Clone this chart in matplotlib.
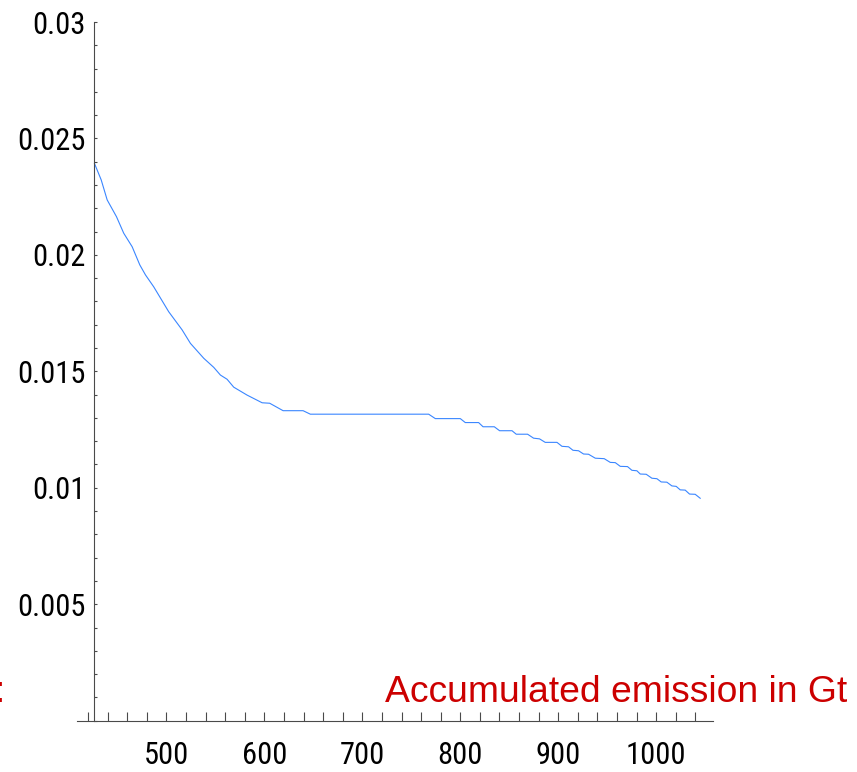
import matplotlib
matplotlib.use("Agg")
import matplotlib.pyplot as plt
from matplotlib import font_manager
from matplotlib.ticker import FixedLocator, MultipleLocator, NullFormatter

# Accumulated emission (Gt) and the corresponding response value
emission = [426.5, 433.4, 439.5, 449.0, 456.4, 465.0, 472.8, 478.6, 487.0, 502.3,
            516.0, 524.5, 538.1, 548.3, 555.1, 561.9, 568.7, 582.3, 597.7, 605.4,
            619.1, 636.7, 639.5, 646.9, 767.7, 774.5, 800.0, 805.1, 818.7, 823.2,
            834.7, 840.1, 852.8, 857.1, 868.7, 874.8, 880.9, 886.7, 898.7, 903.8,
            910.5, 915.0, 920.7, 925.8, 930.9, 937.8, 946.9, 953.1, 958.2, 963.3,
            970.7, 975.2, 980.3, 983.7, 989.8, 995.6, 1000.7, 1005.1, 1010.9, 1016.0,
            1020.4, 1024.5, 1029.6, 1034.0, 1039.8, 1044.9]
response = [0.02393, 0.02322, 0.02236, 0.02164, 0.02093, 0.02035, 0.01957, 0.01914, 0.01863, 0.01756,
            0.01678, 0.01620, 0.01556, 0.01517, 0.01484, 0.01466, 0.01432, 0.01398, 0.01365, 0.01363,
            0.01331, 0.01331, 0.01331, 0.01316, 0.01316, 0.01297, 0.01297, 0.01280, 0.01280, 0.01262,
            0.01262, 0.01245, 0.01245, 0.01230, 0.01230, 0.01213, 0.01210, 0.01195, 0.01195, 0.01178,
            0.01176, 0.01161, 0.01159, 0.01145, 0.01144, 0.01127, 0.01125, 0.01109, 0.01108, 0.01092,
            0.01091, 0.01075, 0.01073, 0.01059, 0.01058, 0.01041, 0.01039, 0.01025, 0.01024, 0.01008,
            0.01006, 0.00991, 0.00990, 0.00973, 0.00972, 0.00955]

x_ticks = [500, 600, 700, 800, 900, 1000]
x_labels = ["500", "600", "700", "800", "900", "1000"]
y_ticks = [0.005, 0.01, 0.015, 0.02, 0.025, 0.03]
y_labels = ["0.005", "0.01", "0.015", "0.02", "0.025", "0.03"]
x_label_text = "Accumulated emission in Gt"

# prefer a narrow face for the tick numbers when one is installed
available = {f.name for f in font_manager.fontManager.ttflist}
tick_family = "Liberation Sans"
for name in ("Liberation Sans Narrow", "Roboto Condensed", "Open Sans Condensed",
             "DejaVu Sans Condensed", "Noto Sans Condensed"):
    if name in available:
        tick_family = name
        break

fig = plt.figure(figsize=(8.57, 7.72), dpi=100)
ax = fig.add_axes([0.0902, 0.0665, 0.7418, 0.905])

ax.plot(emission, response, color="#3a86ff", lw=0.8, solid_joinstyle="round")

ax.set_xlim(409, 1058)
ax.set_ylim(0, 0.03)

axis_color = "#4a4a4a"
for side in ("top", "right"):
    ax.spines[side].set_visible(False)
ax.spines["left"].set_position(("data", emission[0]))
ax.spines["bottom"].set_position(("data", 0))
for side in ("left", "bottom"):
    ax.spines[side].set_color(axis_color)
    ax.spines[side].set_linewidth(0.8)

ax.xaxis.set_major_locator(FixedLocator(x_ticks))
ax.set_xticklabels(x_labels)
ax.xaxis.set_minor_locator(MultipleLocator(20))
ax.xaxis.set_minor_formatter(NullFormatter())
ax.yaxis.set_major_locator(FixedLocator(y_ticks))
ax.set_yticklabels(y_labels)
ax.yaxis.set_minor_locator(MultipleLocator(0.001))
ax.yaxis.set_minor_formatter(NullFormatter())

ax.tick_params(axis="x", which="both", direction="in", length=6.5, width=0.8,
               color=axis_color, pad=15)
ax.tick_params(axis="y", which="both", direction="in", length=2.2, width=0.8,
               color=axis_color, pad=6)
for lab in ax.get_xticklabels() + ax.get_yticklabels():
    lab.set_fontfamily(tick_family)
    lab.set_fontsize(22)
    lab.set_color("black")

# axis caption placed above the horizontal axis, in red
fig.text(385 / 857, (772 - 702) / 772, x_label_text, color="#cc0000",
         fontsize=26.8, family="Liberation Sans", ha="left", va="baseline")
fig.text(-5.5 / 857, (772 - 702) / 772, ":", color="#cc0000",
         fontsize=26.8, family="Liberation Sans", ha="left", va="baseline")

fig.savefig("out.png", dpi=100)
